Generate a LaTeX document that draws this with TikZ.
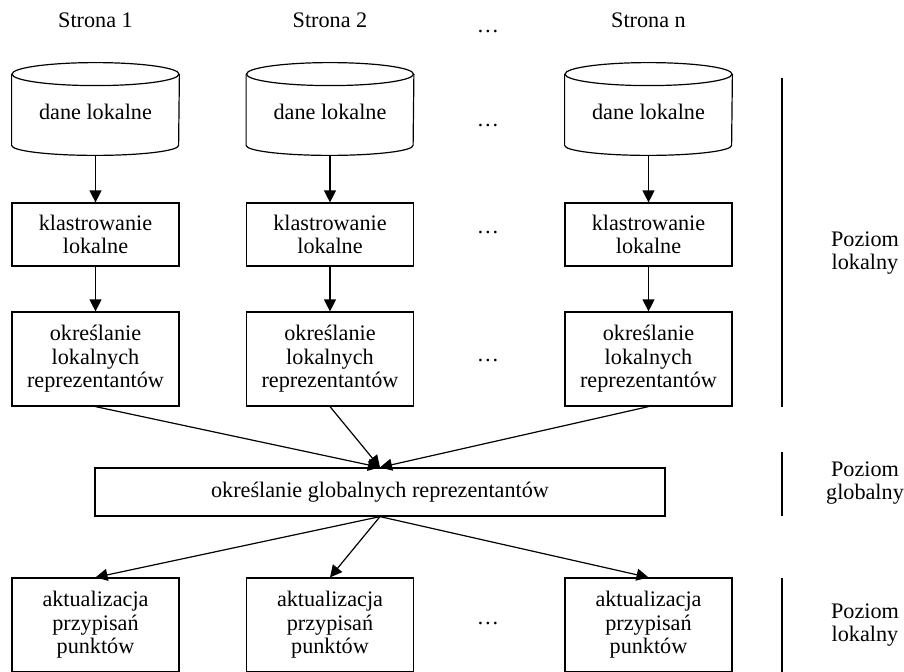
\documentclass[tikz,border=0pt]{standalone}
\usepackage{fontspec}
\setmainfont{Liberation Serif}
\usetikzlibrary{arrows.meta,positioning}

\begin{document}
\begin{tikzpicture}[x=0.5pt,y=0.5pt,
  every node/.style={font=\fontsize{11.1}{11.8}\selectfont},
  blok/.style={draw,line width=0.6pt,minimum width=83.5pt,align=center,inner sep=0},
  baza/.style={minimum width=83.5pt,minimum height=46pt,inner sep=0,text height=10.7pt},
  kropki/.style={inner sep=0},
  strz/.style={-{Triangle[length=6pt,width=6pt]},line width=0.6pt}]
\useasboundingbox (0,0) rectangle (904,671);
% naglowki
\node (s1) at (95.5,651) {Strona 1};
\node (s2) at (330,651) {Strona 2};
\node (sn) at (648.5,651) {Strona n};
\node[kropki] (k0) at (488,639) {…};
% dane
\node[baza] (d1) at (95.5,562) {dane lokalne};
\node[baza] (d2) at (330,562) {dane lokalne};
\node[baza] (dn) at (648.5,562) {dane lokalne};
\node[kropki] (k1) at (488,545) {…};
\foreach \n in {d1,d2,dn}{
  \draw[line width=0.6pt] ([yshift=-5.75pt]\n.north) ellipse [x radius=41.75pt,y radius=5.75pt];
  \draw[line width=0.6pt] ([yshift=-5.75pt]\n.north west) -- ([yshift=5pt]\n.south west)
    arc [start angle=180,end angle=360,x radius=41.75pt,y radius=5pt] -- ([yshift=-5.75pt]\n.north east);
}
% klastrowanie
\node[blok,minimum height=31.5pt] (kl1) at (95.5,436.5) {klastrowanie\\lokalne};
\node[blok,minimum height=31.5pt] (kl2) at (330,436.5) {klastrowanie\\lokalne};
\node[blok,minimum height=31.5pt] (kln) at (648.5,436.5) {klastrowanie\\lokalne};
\node[kropki] (k2) at (488,438) {…};
% reprezentanci lokalni
\node[blok,minimum height=47pt] (r1) at (95.5,312) {określanie\\lokalnych\\reprezentantów};
\node[blok,minimum height=47pt] (r2) at (330,312) {określanie\\lokalnych\\reprezentantów};
\node[blok,minimum height=47pt] (rn) at (648.5,312) {określanie\\lokalnych\\reprezentantów};
\node[kropki] (k3) at (488,311) {…};
% poziom globalny
\node[blok,minimum width=285pt,minimum height=24pt] (glob) at (380,179) {określanie globalnych reprezentantów};
% aktualizacja
\node[blok,minimum height=47pt] (a1) at (95.5,46) {aktualizacja\\przypisań\\punktów};
\node[blok,minimum height=47pt] (a2) at (330,46) {aktualizacja\\przypisań\\punktów};
\node[blok,minimum height=47pt] (an) at (648.5,46) {aktualizacja\\przypisań\\punktów};
\node[kropki] (k4) at (488,48) {…};

\foreach \i in {1,2,n}{
  \draw[strz] (d\i.south) -- (kl\i.north);
  \draw[strz] (kl\i.south) -- (r\i.north);
  \draw[strz] (r\i.south) -- (glob.north);
  \draw[strz] (glob.south) -- (a\i.north);
}
% poziomy
\draw[line width=0.6pt] (782,593) -- (782,264);
\draw[line width=0.6pt] (782,219) -- (782,155);
\draw[line width=0.6pt] (782,93) -- (782,-2);
\node[align=center] (p1) at (865,418) {Poziom\\lokalny};
\node[align=center] (p2) at (865,188) {Poziom\\globalny};
\node[align=center] (p3) at (865,46) {Poziom\\lokalny};
\end{tikzpicture}
\end{document}
